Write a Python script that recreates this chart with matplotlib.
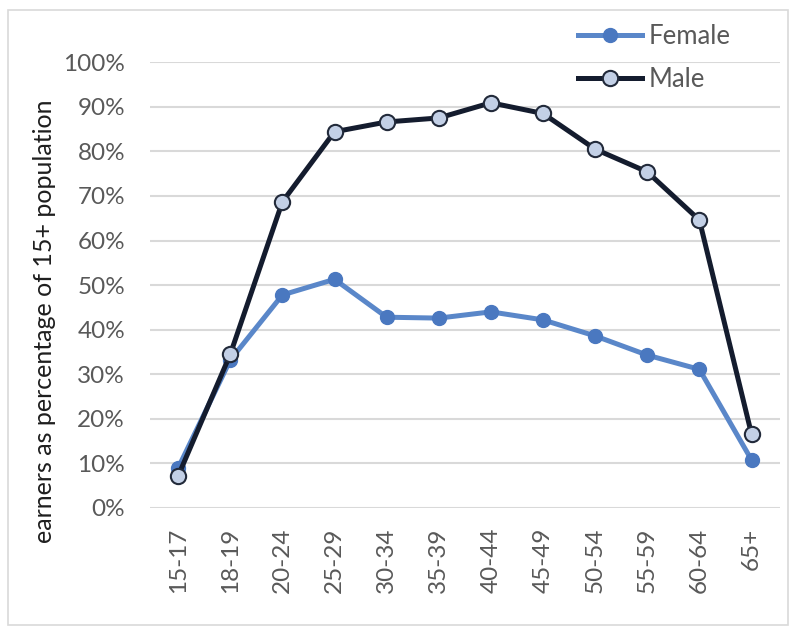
import matplotlib.pyplot as plt
from matplotlib.patches import Rectangle
from matplotlib.ticker import PercentFormatter

plt.rcParams['font.family'] = ['Lato', 'DejaVu Sans']

# earners as share of the 15+ population, by age group
age_groups = ['15-17', '18-19', '20-24', '25-29', '30-34', '35-39',
              '40-44', '45-49', '50-54', '55-59', '60-64', '65+']
female = [0.090, 0.332, 0.478, 0.513, 0.428, 0.426, 0.440, 0.422, 0.386, 0.343, 0.311, 0.108]
male = [0.072, 0.345, 0.687, 0.844, 0.866, 0.875, 0.909, 0.885, 0.805, 0.754, 0.646, 0.166]

fig = plt.figure(figsize=(7.98, 6.35), dpi=100)
ax = fig.add_axes([0.188, 0.2, 0.789, 0.702])

x = range(len(age_groups))
ax.plot(x, female, color='#5a87c9', lw=3.6, marker='o', ms=10,
        markerfacecolor='#4a78c0', markeredgecolor='#4a78c0', label='Female', zorder=3)
ax.plot(x, male, color='#141c2e', lw=3.6, marker='o', ms=11,
        markerfacecolor='#c3d0e6', markeredgecolor='#222a3a', markeredgewidth=1.5,
        label='Male', zorder=4)

ax.set_xlim(-0.54, 11.54)
ax.set_ylim(0, 1.0)
ax.set_yticks([i / 10 for i in range(11)])
ax.yaxis.set_major_formatter(PercentFormatter(1.0, decimals=0))
ax.set_xticks(list(x))
ax.set_xticklabels(age_groups, rotation=90)
ax.tick_params(axis='both', length=0, labelsize=17.5, colors='#595959')
ax.tick_params(axis='y', pad=18)
ax.tick_params(axis='x', pad=14)
ax.grid(axis='y', color='#d9d9d9', lw=1.5)
ax.set_axisbelow(True)
for s in ax.spines.values():
    s.set_visible(False)

ax.set_ylabel('earners as percentage of 15+ population', fontsize=18, color='#1e1e1e')
ax.yaxis.set_label_coords(-0.15, 0.42)

leg = fig.legend(loc='upper left', bbox_to_anchor=(578 / 798, 1 - 24 / 635), frameon=False,
                 fontsize=18.5, handlelength=2.5, handletextpad=0.25, labelspacing=0.7,
                 borderpad=0, borderaxespad=0)
for t in leg.get_texts():
    t.set_color('#595959')

# light frame round the chart area
fig.patches.append(Rectangle((0.01, 0.015), 0.978, 0.97, transform=fig.transFigure,
                             fill=False, edgecolor='#d9d9d9', lw=1.2))

fig.savefig('out.png', dpi=100)
